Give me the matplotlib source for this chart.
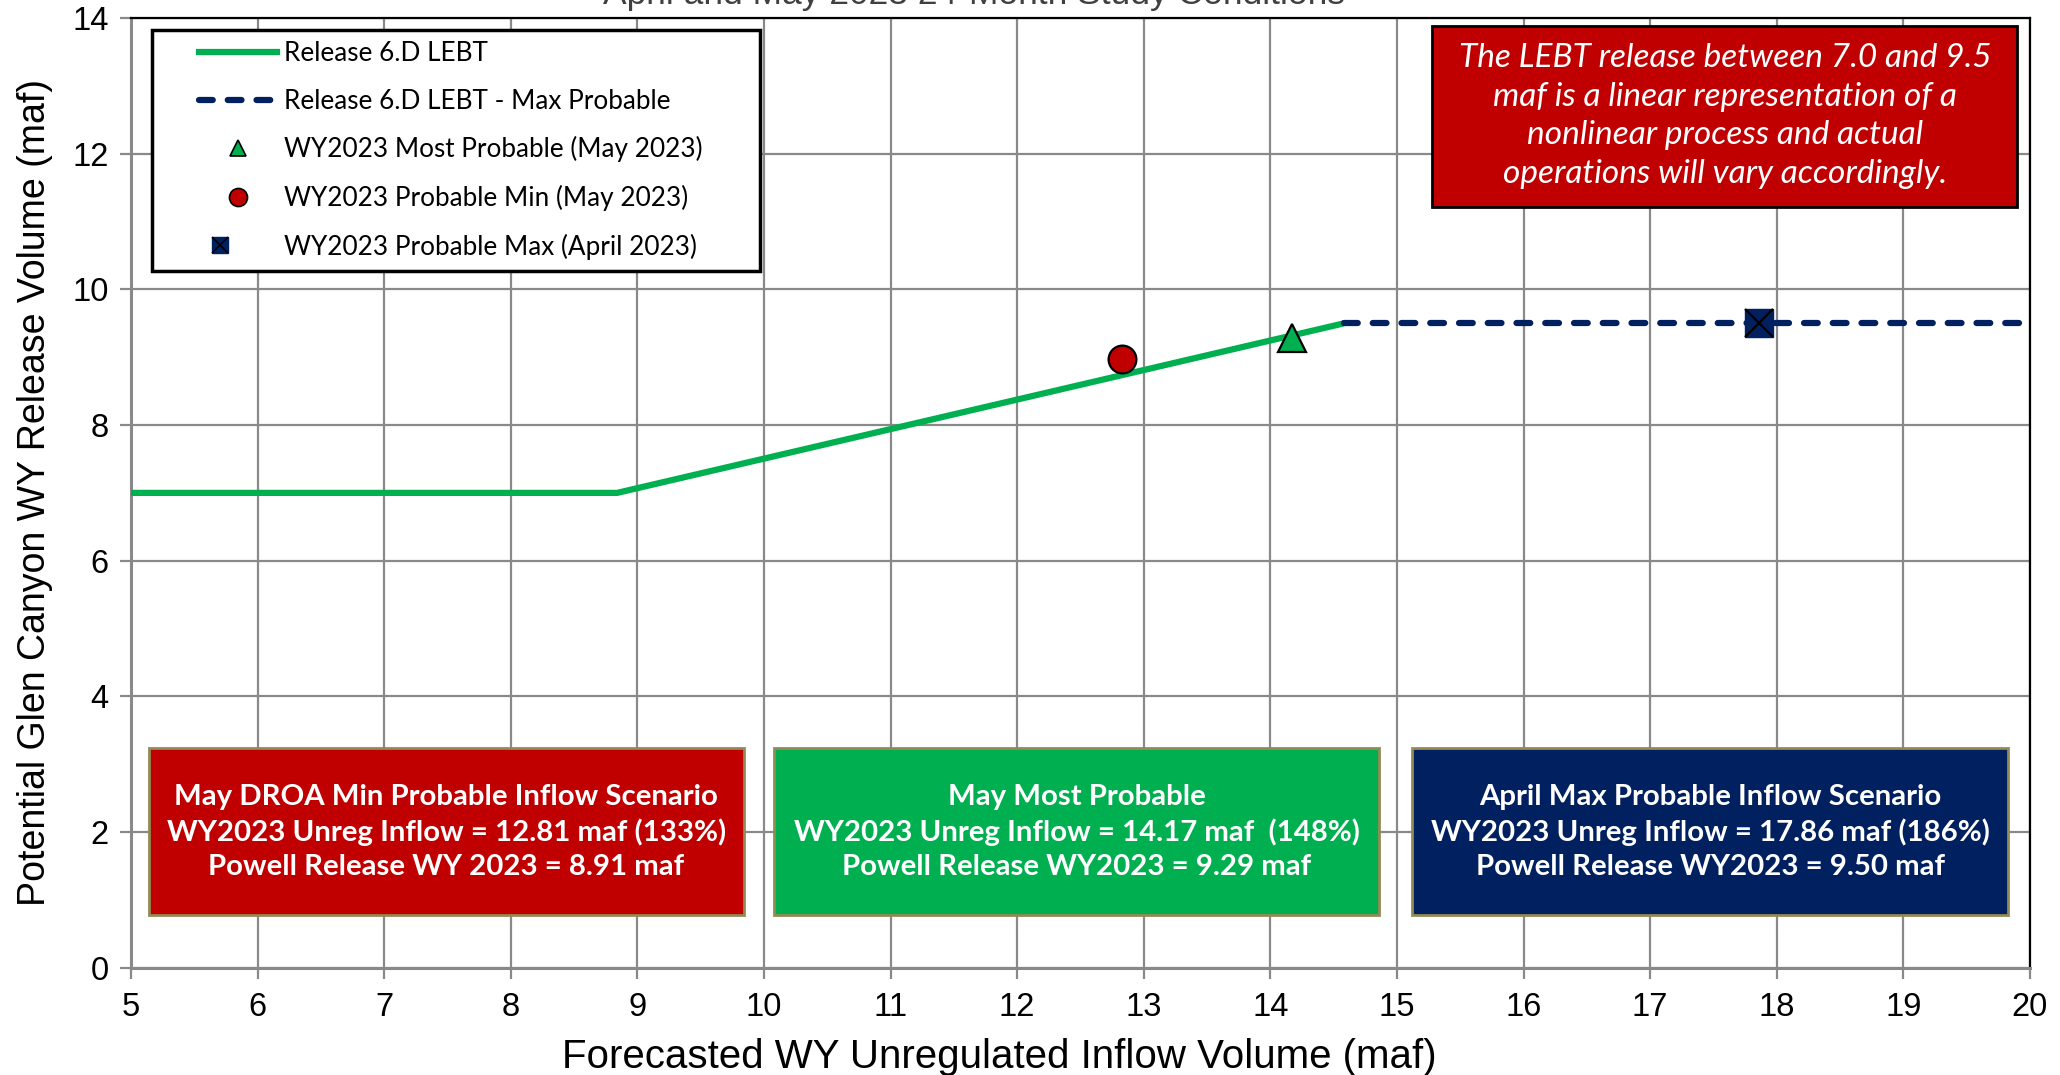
import numpy as np
import matplotlib.pyplot as plt
from matplotlib.patches import Rectangle
from matplotlib.lines import Line2D
from matplotlib.legend_handler import HandlerLine2D, HandlerTuple

#### DATA ####
lebt_x = [5.0, 8.84, 14.58]
lebt_y = [7.0, 7.0, 9.5]
maxprob_x = [14.58, 20.0]
maxprob_y = [9.5, 9.5]

most_prob = (14.17, 9.29)
prob_min = (12.83, 8.97)
prob_max = (17.86, 9.5)

x_ticks = list(range(5, 21))
y_ticks = list(range(0, 15, 2))

title = 'April and May 2023 24-Month Study Conditions'
xlabel = 'Forecasted WY Unregulated Inflow Volume (maf)'
ylabel = 'Potential Glen Canyon WY Release Volume (maf)'

note = ('The LEBT release between 7.0 and 9.5\nmaf is a linear representation of a\n'
        'nonlinear process and actual\noperations will vary accordingly.')
box_texts = [
    'May DROA Min Probable Inflow Scenario\nWY2023 Unreg Inflow = 12.81 maf (133%)\nPowell Release WY 2023 = 8.91 maf',
    'May Most Probable\nWY2023 Unreg Inflow = 14.17 maf  (148%)\nPowell Release WY2023 = 9.29 maf',
    'April Max Probable Inflow Scenario\nWY2023 Unreg Inflow = 17.86 maf (186%)\nPowell Release WY2023 = 9.50 maf',
]
box_x = [(5.14, 9.84), (10.08, 14.86), (15.12, 19.83)]
box_y = (0.77, 3.24)

RED = '#C00000'
GREEN = '#00B050'
NAVY = '#002060'
GRID = '#898989'
box_colors = [RED, GREEN, NAVY]

arial = ['Liberation Sans', 'DejaVu Sans']
calibri = ['Lato', 'DejaVu Sans']

#### PLOT ####
fig = plt.figure(figsize=(20.6, 10.75), dpi=100)
ax = fig.add_axes([0.0636, 0.1, 0.9218, 0.883])

ax.set_xlim(5, 20)
ax.set_ylim(0, 14)
ax.set_xticks(x_ticks)
ax.set_yticks(y_ticks)
ax.grid(True, color=GRID, linewidth=1.6, zorder=0)
ax.set_axisbelow(True)
ax.tick_params(direction='out', length=8, width=1.6, color=GRID, labelsize=23.5)
ax.tick_params(axis='x', pad=10)
ax.tick_params(axis='y', pad=8)
for lab in ax.get_xticklabels() + ax.get_yticklabels():
    lab.set_family(arial)
for s in ['left', 'bottom']:
    ax.spines[s].set_color(GRID)
    ax.spines[s].set_linewidth(2.2)
for s in ['top', 'right']:
    ax.spines[s].set_color('black')
    ax.spines[s].set_linewidth(1.6)

ax.set_xlabel(xlabel, fontsize=29, family=arial)
ax.xaxis.set_label_coords(0.457, -0.074)
ax.set_ylabel(ylabel, fontsize=27, family=arial, labelpad=14)
fig.text(0.473, 0.996, title, fontsize=25.5, family=arial, color='#404040',
         ha='center', va='baseline')

# lines
ax.plot(lebt_x, lebt_y, color=GREEN, linewidth=4.5, zorder=3, solid_capstyle='butt')
ax.plot(maxprob_x, maxprob_y, color=NAVY, linewidth=4.5, dashes=(2.2, 2.4),
        dash_capstyle='round', zorder=3)

# markers
ax.plot(*most_prob, marker='^', markersize=20, color=GREEN, markeredgecolor='black',
        markeredgewidth=1.6, zorder=5)
ax.plot(*prob_min, marker='o', markersize=20, color=RED, markeredgecolor='black',
        markeredgewidth=1.6, zorder=5)
ax.plot(*prob_max, marker='s', markersize=20, color=NAVY, markeredgecolor=NAVY, zorder=5)
ax.plot(*prob_max, marker='x', markersize=20, color='black', markeredgewidth=1.6, zorder=6)

# scenario boxes
for (x0, x1), c, t in zip(box_x, box_colors, box_texts):
    ax.add_patch(Rectangle((x0, box_y[0]), x1 - x0, box_y[1] - box_y[0], facecolor=c,
                           edgecolor='#948A54', linewidth=2, zorder=4))
    ax.text((x0 + x1) / 2, 2.0, t, color='white', fontsize=21.2, fontweight='bold',
            family=calibri, ha='center', va='center', linespacing=1.37, zorder=5)

# note box
ax.add_patch(Rectangle((15.28, 11.21), 4.62, 2.68, facecolor=RED, edgecolor='black',
                       linewidth=2, zorder=4))
ax.text(17.59, 12.56, note, color='white', fontsize=24, style='italic', family=calibri,
        ha='center', va='center', linespacing=1.35, zorder=5)

# legend
handles = [
    Line2D([], [], color=GREEN, linewidth=4.5),
    Line2D([], [], color=NAVY, linewidth=4.5, dashes=(2.2, 2.4), dash_capstyle='round'),
    Line2D([], [], linestyle='none', marker='^', markersize=12, color=GREEN,
           markeredgecolor='black', markeredgewidth=1.2),
    Line2D([], [], linestyle='none', marker='o', markersize=13, color=RED,
           markeredgecolor='black', markeredgewidth=1.2),
    (Line2D([], [], linestyle='none', marker='s', markersize=11, color=NAVY,
            markeredgecolor=NAVY),
     Line2D([], [], linestyle='none', marker='x', markersize=11, color='black',
            markeredgewidth=1.2)),
]
labels = ['Release 6.D LEBT', 'Release 6.D LEBT - Max Probable',
          'WY2023 Most Probable (May 2023)', 'WY2023 Probable Min (May 2023)',
          'WY2023 Probable Max (April 2023)']
leg = ax.legend(handles, labels, loc='upper left',
                bbox_to_anchor=(0.011, 0.735, 0.32, 0.253), mode='expand',
                handler_map={Line2D: HandlerLine2D(xpad=1.35),
                             tuple: HandlerTuple(ndivide=1, pad=0)},
                fancybox=False, framealpha=1, edgecolor='black', borderpad=0.45,
                labelspacing=0.86, handlelength=4.35, handletextpad=0.25,
                borderaxespad=0, prop={'family': calibri, 'size': 18.8})
leg.get_frame().set_linewidth(2.5)
leg.set_zorder(10)

fig.savefig('out.png', dpi=100)
